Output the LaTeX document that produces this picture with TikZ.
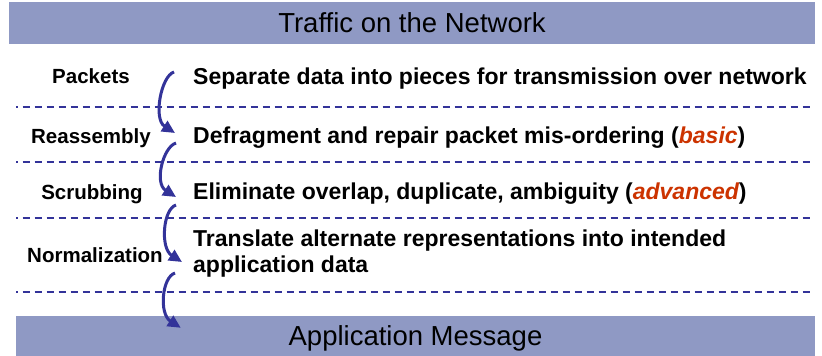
\documentclass[tikz,border=0pt]{standalone}
\usepackage{fontspec}
\setmainfont{Liberation Sans}
\usetikzlibrary{arrows.meta}
\definecolor{barblue}{RGB}{143,153,196}
\definecolor{lineblue}{RGB}{51,51,153}
\definecolor{hotred}{RGB}{204,51,0}

\begin{document}
\begin{tikzpicture}[x=1pt, y=-1pt,
    bar/.style={rectangle, fill=barblue, inner sep=0pt, font=\fontsize{27.5}{30}\selectfont},
    stage/.style={anchor=base, inner sep=0pt, font=\bfseries\fontsize{20.5}{24}\selectfont},
    what/.style={anchor=base west, inner sep=0pt, align=left, font=\bfseries\fontsize{23}{26}\selectfont},
    sep/.style={draw=lineblue, line width=2pt, dash pattern=on 7.3pt off 4.7pt, dash phase=5.3pt},
    flow/.style={draw=lineblue, line width=3pt, -{Triangle[length=13pt, width=12pt]}}]
    \useasboundingbox (0,0) rectangle (822,356);

    \node[bar, minimum width=806pt, minimum height=42pt, text depth=0pt] (net) at (412,23) {Traffic on the Network};
    \node[bar, minimum width=799pt, minimum height=40pt, text depth=0pt] (app) at (415.5,336) {Application Message};

    \node[stage] (packets) at (91,83) {Packets};
    \node[stage] (reasm) at (91,143) {Reassembly};
    \node[stage] (scrub) at (92,199) {Scrubbing};
    \node[stage] (norm) at (95,262) {Normalization};

    \node[what] (split) at (193,84) {Separate data into pieces for transmission over network};
    \node[what] (defrag) at (193,143) {Defragment and repair packet mis-ordering (\textit{\color{hotred}basic})};
    \node[what] (elim) at (193,199) {Eliminate overlap, duplicate, ambiguity (\textit{\color{hotred}advanced})};
    \node[what, anchor=west] (trans) at (193,254) {Translate alternate representations into intended\\application data};

    \draw[sep] (16,107) -- (810,107);
    \draw[sep] (16,162) -- (810,162);
    \draw[sep] (16,218) -- (810,218);
    \draw[sep] (16,292) -- (810,292);

    \draw[flow] ([shift={(-19,-12)}]split.base west) .. controls +(-13,4) and +(-22,-14) .. ([shift={(-18,-10)}]defrag.base west);
    \draw[flow] ([shift={(-17,0)}]defrag.base west) .. controls +(-13,4) and +(-22,-14) .. ([shift={(-17,-2)}]elim.base west);
    \draw[flow] ([shift={(-17,6)}]elim.base west) .. controls +(-13,4) and +(-22,-14) .. ([shift={(-11,8)}]trans.west);
    \draw[flow] ([shift={(-18,19)}]trans.west) .. controls +(-13,4) and +(-22,-14) .. ([shift={(165,12)}]app.north west);
\end{tikzpicture}
\end{document}
